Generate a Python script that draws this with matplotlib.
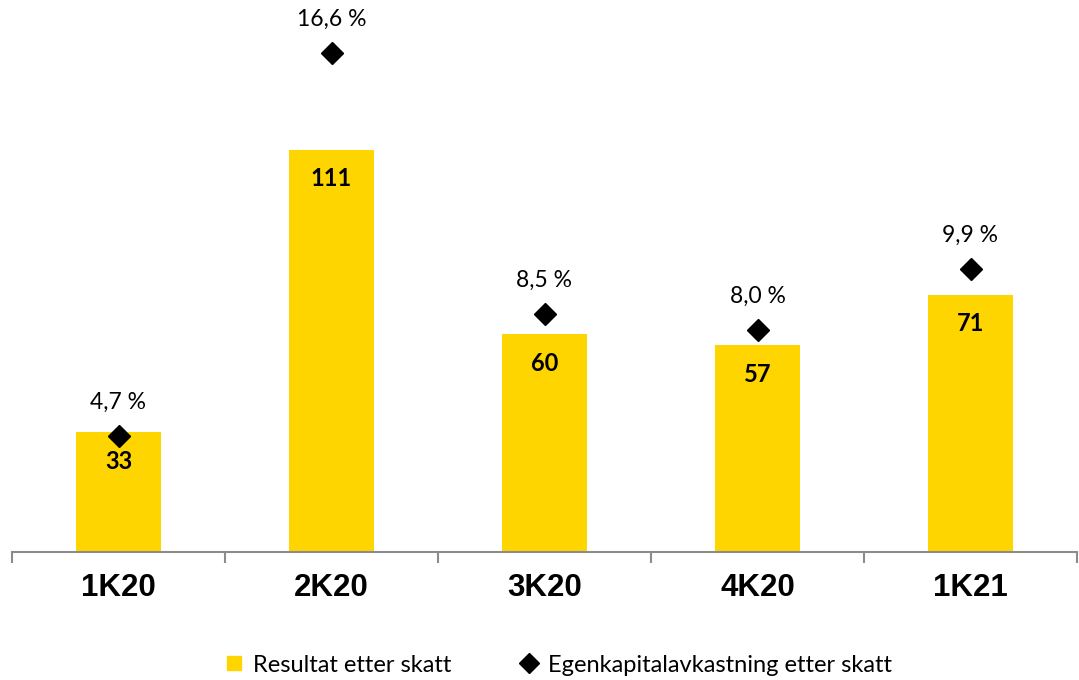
import matplotlib
matplotlib.use("Agg")
import matplotlib.pyplot as plt
from matplotlib.lines import Line2D

# Quarterly figures
quarters = ["1K20", "2K20", "3K20", "4K20", "1K21"]
profit = [33, 111, 60, 57, 71]                 # Resultat etter skatt
roe = [4.7, 16.6, 8.5, 8.0, 9.9]               # Egenkapitalavkastning etter skatt (%)

BAR_COLOR = "#FFD500"
AXIS_GRAY = "#8C8C8C"

fig = plt.figure(figsize=(10.79, 6.80), dpi=100)
ax = fig.add_axes([12 / 1079, 128 / 680, 1065 / 1079, 542 / 680])

x = list(range(len(quarters)))
ax.bar(x, profit, width=0.4, color=BAR_COLOR, zorder=2)
ax.set_xlim(-0.5, len(quarters) - 0.5)
ax.set_ylim(0, 149.5)

# value labels inside the bars
for xi, v in zip(x, profit):
    ax.annotate(f"{v}", (xi, v), xytext=(0, -21), textcoords="offset points",
                ha="center", va="center", fontsize=17, fontweight="bold",
                family="Lato", color="black")

# spines and ticks
for s in ["top", "right", "left"]:
    ax.spines[s].set_visible(False)
ax.spines["bottom"].set_color(AXIS_GRAY)
ax.spines["bottom"].set_linewidth(1.5)
ax.set_yticks([])
ax.set_xticks(x)
ax.set_xticklabels(quarters, fontsize=22.5, fontweight="bold", family="Liberation Sans")
ax.tick_params(axis="x", which="major", length=0, pad=15)
ax.set_xticks([i - 0.5 for i in range(len(quarters) + 1)], minor=True)
ax.tick_params(axis="x", which="minor", length=8, width=1.5, color=AXIS_GRAY, direction="out")

# return on equity on a secondary scale
ax2 = ax.twinx()
ax2.set_ylim(1.097, 1.097 + 542 / 32.18)
ax2.plot(x, roe, linestyle="none", marker="D", markersize=11, color="black", zorder=3)
for xi, v in zip(x, roe):
    ax2.annotate(f"{v:.1f} %".replace(".", ","), (xi, v), xytext=(0, 24),
                 textcoords="offset points", ha="center", va="center",
                 fontsize=16.5, family="Lato", color="black")
ax2.set_yticks([])
for s in ax2.spines.values():
    s.set_visible(False)

handles = [
    Line2D([], [], linestyle="none", marker="s", markersize=10, color=BAR_COLOR),
    Line2D([], [], linestyle="none", marker="D", markersize=10, color="black"),
]
labels = ["Resultat etter skatt", "Egenkapitalavkastning etter skatt"]
fig.legend(handles, labels, loc="center", bbox_to_anchor=(557 / 1079, 15 / 680),
           ncol=2, frameon=False, prop={"family": "Lato", "size": 17},
           handletextpad=0.3, columnspacing=2.8, handlelength=1.0)

fig.savefig("out.png", dpi=100)
